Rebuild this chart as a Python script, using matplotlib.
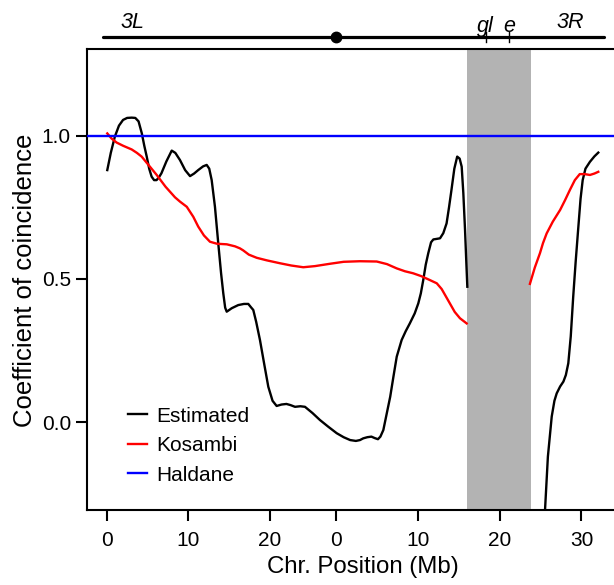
import matplotlib
matplotlib.use("Agg")
import matplotlib.pyplot as plt
from matplotlib.lines import Line2D

plt.rcParams.update({
    "font.family": ["Liberation Sans", "DejaVu Sans"],
    "axes.linewidth": 1.5,
    "xtick.major.width": 1.5,
    "ytick.major.width": 1.5,
})

# x is the position along chromosome 3 (3L then 3R), in Mb
ARM_3L_LEN = 28.11

est_left_x = [0.07, 0.5, 1.0, 1.5, 2.0, 2.5, 3.06, 3.5, 3.9, 4.3, 4.6, 4.9, 5.2, 5.5, 5.8, 6.1,
              6.4, 6.7, 7.3, 7.96, 8.4, 8.97, 9.6, 10.2, 10.7, 11.2, 11.8, 12.24, 12.55, 12.85,
              13.25, 13.66, 14.0, 14.27, 14.5, 14.69, 15.0, 15.3, 16.1, 16.8, 17.33, 17.7, 17.94,
              18.3, 18.76, 19.3, 19.78, 20.3, 20.8, 21.4, 22.0, 22.5, 23.05, 23.7, 24.27, 25.2,
              26.1, 27.1, 28.15, 29.0, 29.8, 30.5, 31.0, 31.4, 31.9, 32.4, 32.8, 33.2, 33.5,
              33.86, 34.2, 34.7, 35.1, 35.5, 36.1, 36.6, 37.1, 37.7, 38.14, 38.45, 38.75, 39.05,
              39.36, 39.7, 39.98, 40.4, 40.8, 41.2, 41.6, 41.9, 42.2, 42.55, 42.9, 43.2, 43.45,
              43.65, 43.86, 44.0, 44.14]
est_left_y = [0.880, 0.94, 0.997, 1.035, 1.055, 1.062, 1.063, 1.062, 1.050, 1.008, 0.965, 0.927,
              0.885, 0.857, 0.845, 0.845, 0.855, 0.869, 0.91, 0.948, 0.940, 0.915, 0.880, 0.859,
              0.868, 0.880, 0.893, 0.898, 0.885, 0.845, 0.752, 0.623, 0.52, 0.450, 0.40, 0.386,
              0.392, 0.398, 0.409, 0.413, 0.413, 0.40, 0.392, 0.35, 0.287, 0.20, 0.124, 0.075,
              0.057, 0.062, 0.064, 0.06, 0.054, 0.056, 0.054, 0.032, 0.008, -0.015, -0.038,
              -0.052, -0.062, -0.065, -0.062, -0.056, -0.052, -0.050, -0.055, -0.059, -0.050,
              -0.027, 0.02, 0.089, 0.16, 0.229, 0.287, 0.318, 0.345, 0.38, 0.415, 0.45, 0.497,
              0.55, 0.590, 0.628, 0.638, 0.640, 0.642, 0.66, 0.694, 0.75, 0.811, 0.885, 0.927,
              0.92, 0.892, 0.80, 0.671, 0.57, 0.473]

est_right_x = [53.3, 53.65, 54.0, 54.47, 54.8, 55.08, 55.5, 55.9, 56.2, 56.5, 56.8, 57.1, 57.4,
               57.7, 58.0, 58.26, 58.6, 59.15, 59.7, 60.17]
est_right_y = [-0.45, -0.306, -0.12, 0.020, 0.075, 0.101, 0.125, 0.142, 0.165, 0.206, 0.30,
               0.438, 0.56, 0.671, 0.78, 0.845, 0.885, 0.909, 0.928, 0.941]

kos_left_x = [0.07, 0.6, 1.22, 2.0, 3.06, 3.7, 4.28, 5.2, 6.12, 7.2, 8.36, 8.97, 9.8, 10.6, 11.2,
              11.9, 12.64, 13.5, 14.7, 15.7, 16.3, 16.7, 17.4, 18.36, 19.6, 21.2, 22.6, 24.06,
              25.5, 27.3, 29.0, 31.0, 33.05, 34.3, 35.5, 36.5, 37.5, 38.5, 39.5, 40.4, 41.0,
              41.5, 42.0, 42.6, 43.24, 44.06]
kos_left_y = [1.008, 0.99, 0.976, 0.965, 0.952, 0.94, 0.927, 0.895, 0.863, 0.822, 0.785, 0.770,
              0.752, 0.717, 0.683, 0.652, 0.630, 0.623, 0.621, 0.614, 0.607, 0.600, 0.585, 0.574,
              0.565, 0.555, 0.547, 0.541, 0.545, 0.553, 0.560, 0.562, 0.561, 0.552, 0.537, 0.527,
              0.520, 0.510, 0.497, 0.485, 0.465, 0.44, 0.415, 0.385, 0.363, 0.345]

kos_right_x = [51.8, 52.4, 53.03, 53.4, 53.85, 54.6, 55.5, 56.1, 56.7, 57.3, 57.9, 58.5, 59.15,
               59.7, 60.17]
kos_right_y = [0.483, 0.54, 0.590, 0.625, 0.659, 0.70, 0.741, 0.775, 0.811, 0.845, 0.866, 0.866,
               0.863, 0.868, 0.874]

haldane_y = 1.0

# inversion region (no data) shaded grey
inv_start, inv_end = 44.06, 51.9

tick_pos = [0, 10, 20, ARM_3L_LEN, ARM_3L_LEN + 10, ARM_3L_LEN + 20, ARM_3L_LEN + 30]
tick_labels = ["0", "10", "20", "0", "10", "20", "30"]

# top chromosome track
chrom_start, chrom_end = -0.45, 60.9
centromere = ARM_3L_LEN
markers = {"gl": 46.39, "e": 49.28}
arm_labels = {"3L": 3.2, "3R": 56.7}

W, H = 614, 585
fig = plt.figure(figsize=(W / 100, H / 100), dpi=100)

left_px, right_px, top_px, bottom_px = 87.3, 638.5, 49.4, 510.4
ax = fig.add_axes([left_px / W, 1 - bottom_px / H, (right_px - left_px) / W, (bottom_px - top_px) / H])
xlim = ((left_px - 106.7) / 8.17, (right_px - 106.7) / 8.17)
ax.set_xlim(*xlim)
ax.set_ylim(-0.3074, 1.3011)

LW = 1.7
ax.axvspan(inv_start, inv_end, color="#b3b3b3", lw=0, zorder=1)
ax.plot(est_left_x, est_left_y, color="black", lw=LW, zorder=3)
ax.plot(est_right_x, est_right_y, color="black", lw=LW, zorder=3)
ax.plot(kos_left_x, kos_left_y, color="#ff0000", lw=LW, zorder=3)
ax.plot(kos_right_x, kos_right_y, color="#ff0000", lw=LW, zorder=3)
ax.axhline(haldane_y, color="#0000ff", lw=LW, zorder=3)

ax.set_xticks(tick_pos)
ax.set_xticklabels(tick_labels)
ax.set_yticks([0.0, 0.5, 1.0])
ax.set_yticklabels(["0.0", "0.5", "1.0"])
ax.tick_params(axis="x", length=8, pad=6.5, labelsize=15)
ax.tick_params(axis="y", length=8, pad=3.8, labelsize=15)

ax.set_xlabel("Chr. Position (Mb)", fontsize=17.3)
ax.set_ylabel("Coefficient of coincidence", fontsize=18.5)
ax.xaxis.set_label_coords(0.5, (bottom_px - 555.5) / (bottom_px - top_px))
ax.yaxis.set_label_coords((36.7 - left_px) / (right_px - left_px), 0.5)

handles = [Line2D([], [], color="black", lw=LW),
           Line2D([], [], color="#ff0000", lw=LW),
           Line2D([], [], color="#0000ff", lw=LW)]
ax.legend(handles, ["Estimated", "Kosambi", "Haldane"], loc="center left",
          bbox_to_anchor=(128.3 / W, 1 - 445.7 / H), bbox_transform=fig.transFigure,
          frameon=False, borderpad=0, borderaxespad=0, handlelength=0.91,
          handletextpad=0.45, labelspacing=0.5, fontsize=15)

# chromosome diagram above the plot, y in pixels from the top of the figure
top = fig.add_axes([left_px / W, 1 - top_px / H, (right_px - left_px) / W, top_px / H])
top.set_xlim(*xlim)
top.set_ylim(top_px, 0)
top.axis("off")
bar_y = 36.7
top.plot([chrom_start, chrom_end], [bar_y, bar_y], color="black", lw=2.3, solid_capstyle="round")
top.plot([centromere], [bar_y], "o", color="black", ms=7.5)
for name, pos in markers.items():
    top.plot([pos, pos], [bar_y - 5, bar_y + 5], color="black", lw=1)
    top.text(pos, 32, name, ha="center", va="baseline", fontsize=15.5, style="italic")
for name, pos in arm_labels.items():
    top.text(pos, 28.5, name, ha="center", va="baseline", fontsize=15.5, style="italic")

fig.savefig("out.png", dpi=100)
